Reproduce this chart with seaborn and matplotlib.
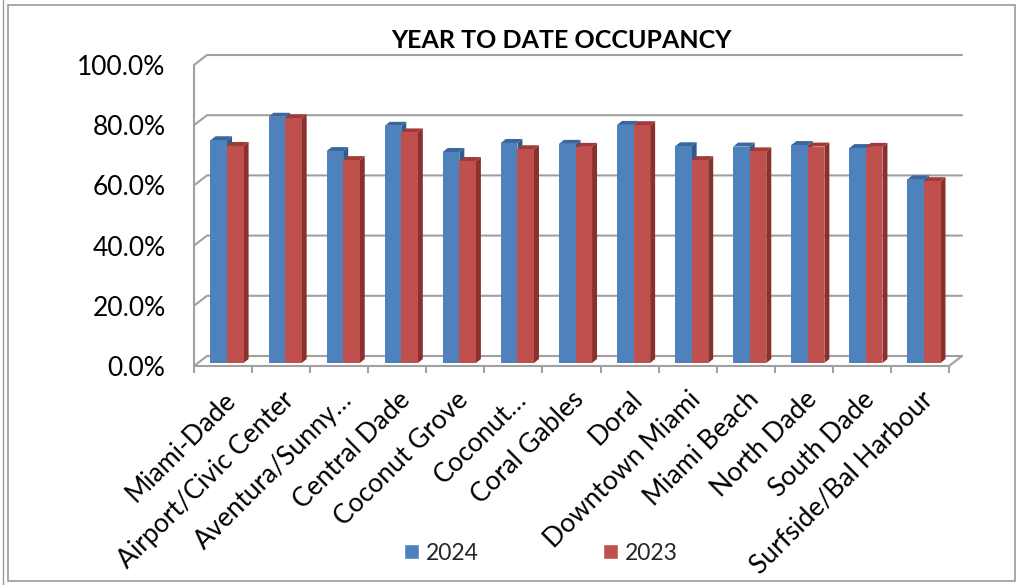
import numpy as np
import pandas as pd
import matplotlib
matplotlib.use("Agg")
import matplotlib.pyplot as plt
import matplotlib.transforms as mtransforms
from matplotlib.patches import Polygon, Rectangle
from matplotlib.lines import Line2D
from matplotlib.ticker import PercentFormatter, FixedLocator
import seaborn as sns

regions = ["Miami-Dade", "Airport/Civic Center", "Aventura/Sunny…", "Central Dade",
           "Coconut Grove", "Coconut…", "Coral Gables", "Doral", "Downtown Miami",
           "Miami Beach", "North Dade", "South Dade", "Surfside/Bal Harbour"]
occ_2024 = [74.0, 81.8, 70.4, 78.8, 70.1, 73.1, 72.8, 79.1, 72.0, 71.9, 72.4, 71.4, 61.0]
occ_2023 = [72.1, 81.3, 67.4, 76.6, 67.1, 71.0, 71.8, 79.0, 67.4, 70.3, 71.9, 71.8, 60.4]
years = ["2024", "2023"]
y_ticks = [0.0, 0.2, 0.4, 0.6, 0.8, 1.0]
title = "YEAR TO DATE OCCUPANCY"

front_cols = ["#4F81BD", "#C0504D"]
side_cols = ["#2F5B8E", "#8A302D"]
top_cols = ["#3A679E", "#A03B38"]
grid_col = "#A0A0A0"

sns.set_theme(style="white")
plt.rcParams["font.family"] = ["Lato", "DejaVu Sans"]

W, H = 1018, 585
fig = plt.figure(figsize=(W / 100, H / 100), dpi=100)
ax = fig.add_axes([194 / W, 1 - 366 / H, (949 - 194) / W, (366 - 65) / H])

df = pd.DataFrame({
    "Region": regions * 2,
    "Year": [years[0]] * len(regions) + [years[1]] * len(regions),
    "Occupancy": np.array(occ_2024 + occ_2023) / 100.0,
})
sns.barplot(data=df, x="Region", y="Occupancy", hue="Year", hue_order=years,
            palette=front_cols, width=0.57, saturation=1, errorbar=None,
            ax=ax, legend=True)

ax.set_xlim(-0.5, len(regions) - 0.5)
ax.set_ylim(0, 1)
ax.set_xlabel("")
ax.set_ylabel("")
ax.grid(False)

# y axis
ax.yaxis.set_major_locator(FixedLocator(y_ticks))
ax.yaxis.set_major_formatter(PercentFormatter(1.0, decimals=1))
ax.tick_params(axis="y", which="major", length=5, width=1.5, color=grid_col,
               direction="out", pad=15.5, labelsize=19, labelcolor="black")
# x axis
ax.set_xticks(range(len(regions)))
ax.set_xticklabels(regions, rotation=45, ha="right", rotation_mode="anchor")
ax.set_xticks(np.arange(-0.5, len(regions), 1.0), minor=True)
ax.tick_params(axis="x", which="major", length=0, pad=15, labelsize=19,
               labelcolor="black")
ax.tick_params(axis="x", which="minor", length=5, width=1.5, color=grid_col,
               direction="out", bottom=True)
for s in ["top", "right"]:
    ax.spines[s].set_visible(False)
for s in ["left", "bottom"]:
    ax.spines[s].set_color(grid_col)
    ax.spines[s].set_linewidth(1.5)
    ax.spines[s].set_zorder(10)
ax.patch.set_alpha(0)

def off(dx, dy):
    return mtransforms.ScaledTranslation(dx / 100, dy / 100, fig.dpi_scale_trans)

IDT = mtransforms.IdentityTransform()
WALL = (13, 10)
BAR_OFF = (4, 3)
DEPTH = (5, 4)

# back wall gridlines + left wall diagonals
T = ax.transData
xl, xr = ax.get_xlim()
for t in y_ticks:
    fx, fy = T.transform((xl, t))
    rx, _ = T.transform((xr, t))
    ax.add_artist(Line2D([fx, fx + WALL[0], rx + WALL[0]], [fy, fy + WALL[1], fy + WALL[1]],
                         transform=IDT, color=grid_col, lw=1.5, zorder=1, clip_on=False))
rx, ry = T.transform((xr, 0))
ax.add_artist(Line2D([rx, rx + WALL[0]], [ry, ry + WALL[1]], transform=IDT,
                     color=grid_col, lw=1.5, zorder=1, clip_on=False))

# pseudo-3D bars
for i, cont in enumerate(ax.containers):
    for rect in cont.patches:
        rect.set_transform(T + off(*BAR_OFF))
        rect.set_zorder(4 + 2 * i)
        rect.set_edgecolor("none")
        x0 = rect.get_x(); x1 = x0 + rect.get_width(); h = rect.get_height()
        p0x, p0y = T.transform((x0, 0))
        p1x, p1y = T.transform((x1, h))
        bx, by = BAR_OFF
        dx, dy = DEPTH
        side = [(p1x + bx, p0y + by), (p1x + bx, p1y + by),
                (p1x + bx + dx, p1y + by + dy), (p1x + bx + dx, p0y + by + dy)]
        top = [(p0x + bx, p1y + by), (p1x + bx, p1y + by),
               (p1x + bx + dx, p1y + by + dy), (p0x + bx + dx, p1y + by + dy)]
        ax.add_artist(Polygon(side, closed=True, transform=IDT, facecolor=side_cols[i],
                              edgecolor="none", zorder=3 + 2 * i, clip_on=False))
        ax.add_artist(Polygon(top, closed=True, transform=IDT, facecolor=top_cols[i],
                              edgecolor="none", zorder=3 + 2 * i, clip_on=False))

# legend
sns.move_legend(ax, "center", bbox_to_anchor=(541 / W, 1 - 553 / H),
                bbox_transform=fig.transFigure, ncol=2, frameon=False, title=None,
                columnspacing=5.4, handlelength=0.68, handleheight=0.68,
                handletextpad=0.3, fontsize=16.5)

fig.text(561 / W, 1 - 40 / H, title, ha="center", va="center", fontsize=18,
         fontweight="bold", color="black")

# outer frame
fig.add_artist(Rectangle((8 / W, 4 / H), (1015 - 8) / W, (580 - 4) / H,
                         transform=fig.transFigure, fill=False, edgecolor="#9A9A9A", lw=1.2))
fig.add_artist(Line2D([3 / W, 3 / W], [0, 1], transform=fig.transFigure,
                      color="#9A9A9A", lw=1.0))

fig.savefig("out.png", dpi=100)
